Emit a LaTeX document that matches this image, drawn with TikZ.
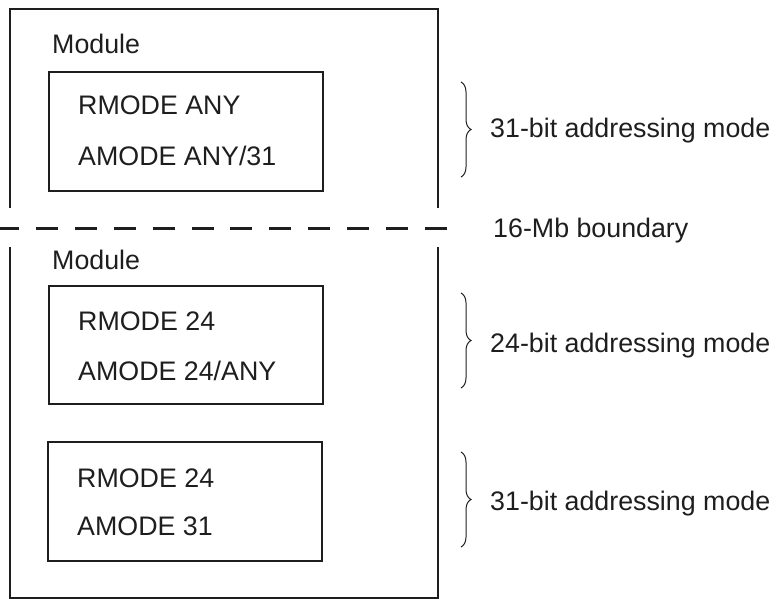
\documentclass[tikz,border=0pt]{standalone}
\usepackage{fontspec}
\setmainfont{Liberation Sans}
\usetikzlibrary{decorations.pathreplacing}
\definecolor{ink}{HTML}{1E1E1E}
\tikzset{
  frame/.style={draw=ink, line width=1.6pt},
  modebox/.style={draw=ink, line width=1.6pt, minimum width=274pt, minimum height=119pt, inner sep=0pt},
  txt/.style={anchor=base west, inner sep=0pt, text=ink, font=\fontsize{26.8}{32}\selectfont},
  curly/.style={draw=ink, line width=1pt, decorate, decoration={brace, amplitude=10pt}},
  boundary/.style={draw=ink, line width=2.3pt, dash pattern=on 22pt off 16.9pt}
}
\begin{document}
\begin{tikzpicture}[x=1pt, y=-1pt]
  \useasboundingbox (0,0) rectangle (782,599);

  % memory above the line (open at the bottom)
  \draw[frame] (10,208) -- (10,9) -- (438,9) -- (438,208);
  % memory below the line (open at the top)
  \draw[frame] (10,247) -- (10,598) -- (438,598) -- (438,247);

  % 16-Mb boundary
  \coordinate (lineL) at (-3,228.5);
  \coordinate (lineR) at (449,228.5);
  \draw[boundary] (lineL) -- (lineR);

  % module above the line
  \node[txt] (modA) at (52,54) {Module};
  \node[modebox] (boxA) at (186,131.5) {};
  \node[txt] (rA) at (78,115) {RMODE ANY};
  \node[txt] (aA) at (78,166) {AMODE ANY/31};

  % module below the line
  \node[txt] (modB) at (52,269) {Module};
  \node[modebox, minimum height=118pt] (boxB) at (186,345) {};
  \node[txt] (rB) at (78,330) {RMODE 24};
  \node[txt] (aB) at (78,380) {AMODE 24/ANY};

  \node[modebox] (boxC) at (185,501.5) {};
  \node[txt] (rC) at (77,487) {RMODE 24};
  \node[txt] (aC) at (77,535) {AMODE 31};

  % addressing-mode annotations
  \coordinate (b1t) at (461,82);  \coordinate (b1b) at (461,177);
  \coordinate (b2t) at (461,293); \coordinate (b2b) at (461,388);
  \coordinate (b3t) at (461,452); \coordinate (b3b) at (461,547);
  \draw[curly] (b1t) -- (b1b);
  \draw[curly] (b2t) -- (b2b);
  \draw[curly] (b3t) -- (b3b);

  \node[txt] (m1) at (490,138) {31-bit addressing mode};
  \node[txt] (bd) at (493,237) {16-Mb boundary};
  \node[txt] (m2) at (490,352) {24-bit addressing mode};
  \node[txt] (m3) at (490,510) {31-bit addressing mode};
\end{tikzpicture}
\end{document}
